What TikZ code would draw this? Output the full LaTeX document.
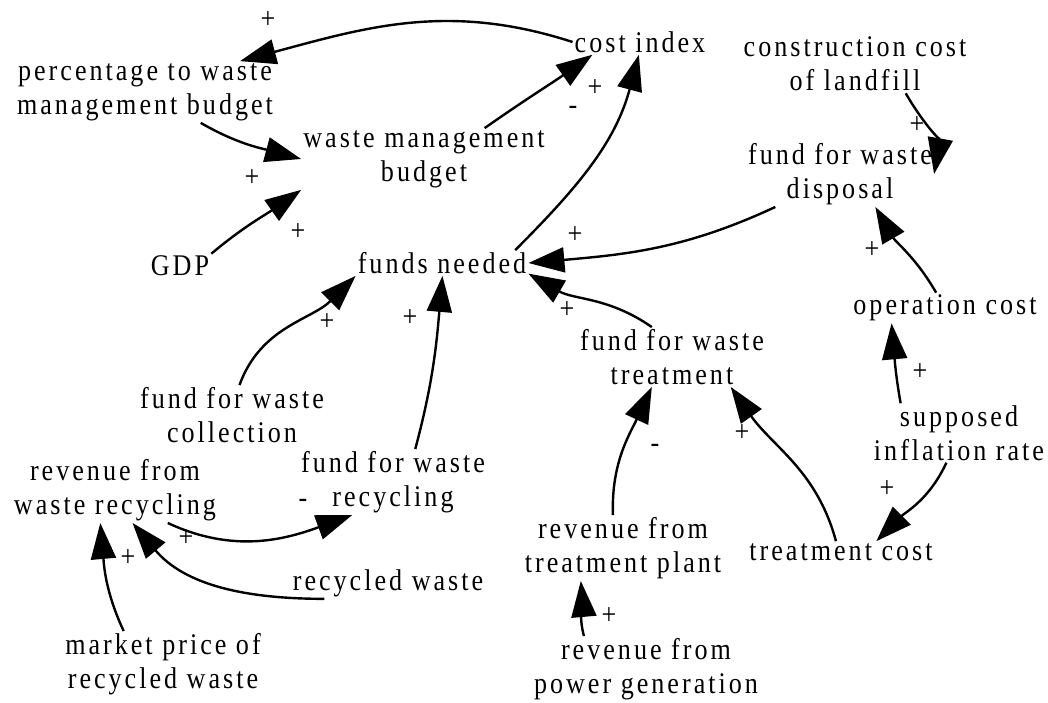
\documentclass[tikz,border=0pt]{standalone}
\usepackage{fontspec}
\setmainfont{Liberation Serif}[FakeStretch=0.87,LetterSpace=10]
\usetikzlibrary{arrows.meta}

\begin{document}
\begin{tikzpicture}[x=1pt,y=1pt,
  every node/.style={align=center,inner sep=2pt,font=\fontsize{30}{34}\selectfont},
  pol/.style={inner sep=0pt,font=\fontsize{30}{30}\selectfont},
  link/.style={line width=2.4pt,-{Triangle[length=36pt,width=25pt]}}]
\useasboundingbox (0,0) rectangle (1048,702);

% variables
\node (ci) at (640,660) {cost index};
\node (pct) at (145,610) {percentage to waste\\management budget};
\node (wmb) at (424,543) {waste management\\budget};
\node (ccl) at (855,638) {construction cost\\of landfill};
\node (fwd) at (840,528) {fund for waste\\disposal};
\node (gdp) at (180,436) {GDP};
\node (fn) at (442,439) {funds needed};
\node (oc) at (945,394) {operation cost};
\node (fwt) at (672,345) {fund for waste\\treatment};
\node (sir) at (959,269) {supposed\\inflation rate};
\node (fwc) at (232,287) {fund for waste\\collection};
\node (rwr) at (115,212) {revenue from\\waste recycling};
\node (fwr) at (393,220) {fund for waste\\recycling};
\node (rw) at (388,119) {recycled waste};
\node (rtp) at (623,154) {revenue from\\treatment plant};
\node (tc) at (841,150) {treatment cost};
\node (rpg) at (646,33) {revenue from\\power generation};
\node (mpr) at (163,38) {market price of\\recycled waste};

% links
\draw[link] (ci.west) to[out=162,in=15] (pct.18);
\draw[link] (pct.-29) to[out=-30,in=165] (wmb.west);
\draw[link] (wmb.27) to[out=35,in=-145] (ci.-165);
\draw[link] (fn.10) to[out=45,in=-105] (ci.-95);
\draw[link] (gdp.north east) to[out=40,in=-145] (wmb.south west);
\draw[link] (ccl.-30) to[out=-60,in=80] (fwd.east);
\draw[link] (fwd.-153) to[out=-155,in=5] (fn.east);
\draw[link] (oc.120) to[out=120,in=-60] (fwd.-43);
\draw[link] (fwt.124) to[out=145,in=-30] (fn.-7);
\draw[link] (fwc.76) to[out=70,in=-135] (fn.south west);
\draw[link] (fwr.56) to[out=75,in=-95] (fn.-88);
\draw[link] (sir.153) to[out=100,in=-85] (oc.-164);
\draw[link] (sir.-113) to[out=-115,in=45] (tc.17);
\draw[link] (tc.115) to[out=105,in=-55] (fwt.-27);
\draw[link] (rtp.107) to[out=92,in=-115] (fwt.-124);
\draw[link] (rpg.152) to[out=105,in=-85] (rtp.-142);
\draw[link] (rwr.-32) to[out=-25,in=-160] (fwr.-141);
\draw[link] (rw.-166) to[out=180,in=-50] (rwr.-62);
\draw[link] (mpr.140) to[out=115,in=-85] (rwr.-114);

% polarities
\node[pol] (s1) at (268,682) {+};
\node[pol] (s2) at (252,524) {+};
\node[pol] (s3) at (298,470) {+};
\node[pol] (s4) at (595,614) {+};
\node[pol] (s5) at (573,592) {-};
\node[pol] (s6) at (917,577) {+};
\node[pol] (s7) at (575,467) {+};
\node[pol] (s8) at (872,452) {+};
\node[pol] (s9) at (567,392) {+};
\node[pol] (s10) at (327,380) {+};
\node[pol] (s11) at (410,384) {+};
\node[pol] (s12) at (920,330) {+};
\node[pol] (s13) at (887,213) {+};
\node[pol] (s14) at (742,269) {+};
\node[pol] (s15) at (655,254) {-};
\node[pol] (s16) at (609,86) {+};
\node[pol] (s17) at (303,199) {-};
\node[pol] (s18) at (186,164) {+};
\node[pol] (s19) at (128,144) {+};
\end{tikzpicture}
\end{document}
